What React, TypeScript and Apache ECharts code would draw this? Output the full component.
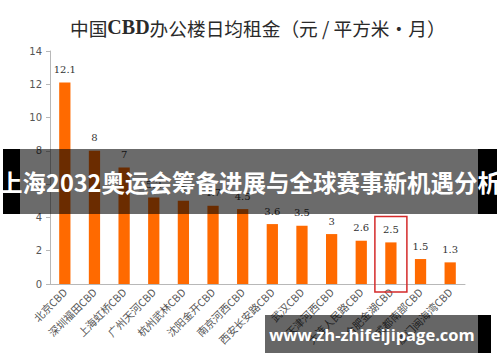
import React, { useEffect, useRef } from "react";
import * as echarts from "echarts";

const titleParts = ["中国", "CBD", "办公楼日均租金（元 / 平方米·月）"];
const categories = [
  "北京CBD",
  "深圳福田CBD",
  "上海虹桥CBD",
  "广州天河CBD",
  "杭州武林CBD",
  "沈阳金开CBD",
  "南京河西CBD",
  "西安长安路CBD",
  "武汉CBD",
  "天津河西CBD",
  "大连人民路CBD",
  "合肥金湖CBD",
  "成都南部CBD",
  "厦门闽海湾CBD",
];
const rents = [12.1, 8, 7, 5.2, 5.0, 4.7, 4.5, 3.6, 3.5, 3, 2.6, 2.5, 1.5, 1.3];
const highlightIndex = 11;
const yTicks = { min: 0, max: 14, interval: 2 };
const bannerText = "上海2032奥运会筹备进展与全球赛事新机遇分析";
const watermarkText = "www.zh-zhifeijipage.com";

export default function App() {
  const ref = useRef<HTMLDivElement>(null);
  useEffect(() => {
    if (!ref.current) return;
    const chart = echarts.init(ref.current, null, { renderer: "svg" });
    const titleStyle = {
      fontFamily: "Noto Sans CJK SC",
      fontSize: 18.7,
      color: "#2a2a2a",
    };
    chart.setOption({
      animation: false,
      backgroundColor: "#ffffff",
      title: {
        text: `{a|${titleParts[0]}}{b|${titleParts[1]}}{a|${titleParts[2]}}`,
        left: 65,
        top: 12,
        textStyle: {
          ...titleStyle,
          fontWeight: "normal",
          rich: {
            a: { ...titleStyle, fontWeight: "normal" },
            b: { ...titleStyle, fontFamily: "Liberation Serif", fontWeight: "bold", fontSize: 20 },
          },
        },
      },
      grid: { left: 50, right: 35, top: 51, bottom: 78 },
      xAxis: {
        type: "category",
        data: categories,
        axisLine: { lineStyle: { color: "#b8b8b8", width: 1 } },
        axisTick: { alignWithLabel: false, length: 5, lineStyle: { color: "#b8b8b8" } },
        axisLabel: {
          rotate: 45,
          interval: 0,
          fontFamily: "Noto Sans CJK SC",
          fontSize: 10.5,
          color: "#555",
          margin: 6,
        },
      },
      yAxis: {
        type: "value",
        min: yTicks.min,
        max: yTicks.max,
        interval: yTicks.interval,
        axisLine: { show: true, lineStyle: { color: "#b8b8b8" } },
        axisTick: { show: true, length: 4, lineStyle: { color: "#b8b8b8" } },
        splitLine: { show: false },
        axisLabel: { fontFamily: "DejaVu Sans", fontSize: 10, color: "#555", margin: 8 },
      },
      series: [
        {
          type: "bar",
          data: rents,
          barWidth: "38%",
          itemStyle: { color: "#ff6a00" },
          label: {
            show: true,
            position: "top",
            distance: 8,
            fontFamily: "DejaVu Serif",
            fontSize: 10,
            color: "#333",
          },
        },
      ],
    });

    const [cx, yv] = chart.convertToPixel({ gridIndex: 0 }, [highlightIndex, rents[highlightIndex]]) as number[];
    const [, y0] = chart.convertToPixel({ gridIndex: 0 }, [highlightIndex, 0]) as number[];
    const W = 500;

    chart.setOption({
      graphic: [
        {
          type: "rect",
          shape: { x: cx - 16, y: yv - 26, width: 32, height: y0 + 8 - (yv - 26) },
          style: { fill: "none", stroke: "#d42a2a", lineWidth: 1.5 },
          z: 50,
        },
        {
          type: "rect",
          shape: { x: 3, y: 149, width: 17, height: 65 },
          style: { fill: "#000" },
          z: 100,
        },
        {
          type: "rect",
          shape: { x: 478, y: 149, width: 19, height: 65 },
          style: { fill: "#000" },
          z: 100,
        },
        {
          type: "rect",
          shape: { x: 20, y: 149, width: 458, height: 65 },
          style: { fill: "rgba(0,0,0,0.58)" },
          z: 100,
        },
        {
          type: "text",
          x: W / 2,
          y: 182,
          style: {
            text: bannerText,
            fill: "#fff",
            font: "bold 23.5px 'Noto Sans CJK SC'",
            textAlign: "center",
            textVerticalAlign: "middle",
          },
          z: 101,
        },
        {
          type: "rect",
          shape: { x: 478, y: 315, width: 13, height: 38 },
          style: { fill: "#000" },
          z: 100,
        },
        {
          type: "rect",
          shape: { x: 265, y: 315, width: 213, height: 38 },
          style: { fill: "rgba(0,0,0,0.6)" },
          z: 100,
        },
        {
          type: "text",
          x: 372,
          y: 334,
          style: {
            text: watermarkText,
            fill: "#fff",
            font: "bold 16.5px 'Open Sans'",
            textAlign: "center",
            textVerticalAlign: "middle",
          },
          z: 101,
        },
      ],
    });
    return () => chart.dispose();
  }, []);
  return <div ref={ref} style={{ width: 500, height: 362, position: "absolute", left: 0, top: 0 }} />;
}
